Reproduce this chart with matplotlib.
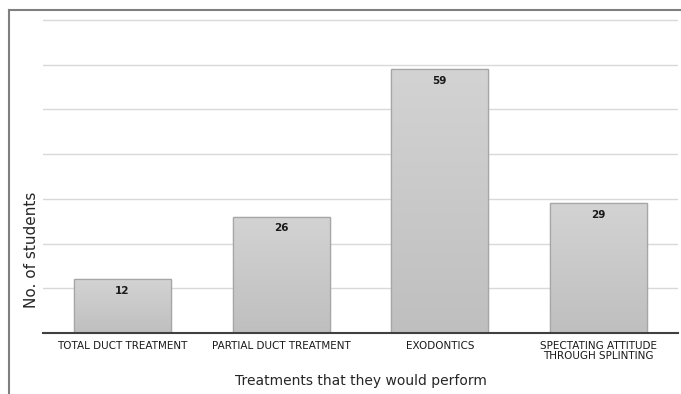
import numpy as np
import matplotlib
matplotlib.use("Agg")
import matplotlib.pyplot as plt
from matplotlib.lines import Line2D

# --- Data ---
categories = ["TOTAL DUCT TREATMENT", "PARTIAL DUCT TREATMENT", "EXODONTICS",
              "SPECTATING ATTITUDE\nTHROUGH SPLINTING"]
students = [12, 26, 59, 29]
grid_ticks = [10, 20, 30, 40, 50, 60, 70]

plt.rcParams['font.family'] = ['DejaVu Sans']

fig = plt.figure(figsize=(6.81, 3.94), dpi=100)
ax = fig.add_axes([0.0631, 0.1548, 0.9325, 0.7995])

x = np.arange(len(categories))
bars = ax.bar(x, students, width=0.61, color='#c8c8c8', edgecolor='#a6a6a6',
              linewidth=0.9, zorder=3)

# soft vertical gradient inside each bar
grad = np.linspace(0, 1, 256).reshape(-1, 1)
cmap = matplotlib.colors.LinearSegmentedColormap.from_list('g', ['#bfbfbf', '#d3d3d3'])
for b in bars:
    x0, w, h = b.get_x(), b.get_width(), b.get_height()
    im = ax.imshow(grad, extent=[x0, x0 + w, 0, h], origin='lower', cmap=cmap,
                   aspect='auto', zorder=3.5)
    im.set_clip_path(b)
    ax.add_patch(plt.Rectangle((x0, 0), w, h, fill=False, edgecolor='#a6a6a6',
                               linewidth=0.9, zorder=4))

for xi, v in zip(x, students):
    ax.text(xi, v - 1.5, str(v), ha='center', va='top', fontsize=7.5,
            fontweight='bold', color='#1a1a1a', zorder=5)

ax.set_xlim(-0.5, 3.5)
ax.set_ylim(0, 70.4)
ax.set_yticks(grid_ticks)
ax.set_yticklabels([])
ax.tick_params(axis='y', length=0)
ax.yaxis.grid(True, color='#d9d9d9', linewidth=1.0, zorder=0)
ax.set_axisbelow(True)

ax.set_xticks(x)
ax.set_xticklabels(categories, fontsize=7.5, color='#1a1a1a', linespacing=1.0)
ax.tick_params(axis='x', length=0, pad=6)

for s in ['top', 'right', 'left']:
    ax.spines[s].set_visible(False)
ax.spines['bottom'].set_color('#404040')
ax.spines['bottom'].set_linewidth(1.5)
ax.spines['bottom'].set_zorder(6)

ax.set_xlabel("Treatments that they would perform", fontsize=10, color='#262626',
              labelpad=9)
ax.set_ylabel("No. of students", fontsize=11, color='#262626')
ax.yaxis.set_label_coords(-0.007, 0.265)

# outer frame (left and top edges)
fig.add_artist(Line2D([9 / 681, 9 / 681], [0, 1 - 10 / 394], color='#7f7f7f',
                      linewidth=1.5, transform=fig.transFigure))
fig.add_artist(Line2D([9 / 681, 1], [1 - 10 / 394, 1 - 10 / 394], color='#7f7f7f',
                      linewidth=1.5, transform=fig.transFigure))

fig.savefig('out.png', dpi=100)
